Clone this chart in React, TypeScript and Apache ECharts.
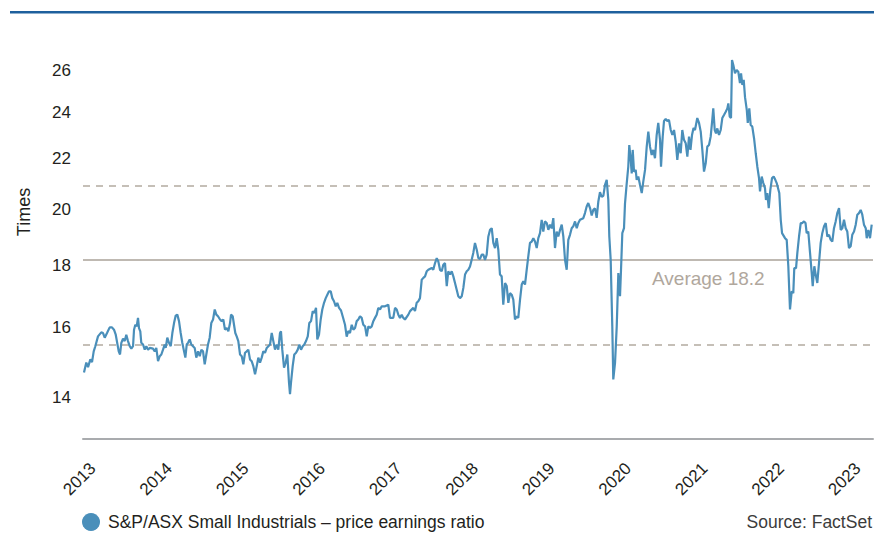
import React, { useEffect, useRef } from "react";
import * as echarts from "echarts";

// [decimal year, P/E ratio (times)]
const pe2013: [number, number][] = [
  [2013.333, 14.69], [2013.363, 14.97], [2013.386, 14.84], [2013.416, 15.06], [2013.438, 14.98],
  [2013.46, 15.29], [2013.481, 15.44], [2013.516, 15.73], [2013.559, 15.85], [2013.582, 15.83],
  [2013.604, 15.69], [2013.634, 15.83], [2013.669, 16.0], [2013.699, 16.0], [2013.725, 15.93],
  [2013.748, 15.78], [2013.787, 15.29], [2013.804, 15.2], [2013.821, 15.54], [2013.843, 15.66],
  [2013.865, 15.59], [2013.886, 15.78], [2013.908, 15.59], [2013.931, 15.44], [2013.952, 15.37],
  [2013.974, 15.44], [2013.987, 15.93],
];
const pe2014: [number, number][] = [
  [2014.004, 16.08], [2014.022, 16.03], [2014.039, 16.29], [2014.052, 15.98], [2014.069, 15.88],
  [2014.082, 15.54], [2014.105, 15.49], [2014.127, 15.34], [2014.148, 15.44], [2014.17, 15.34],
  [2014.192, 15.39], [2014.235, 15.37], [2014.258, 15.29], [2014.278, 15.39], [2014.301, 15.01],
  [2014.323, 15.15], [2014.344, 15.2], [2014.366, 15.34], [2014.388, 15.49], [2014.401, 15.39],
  [2014.422, 15.69], [2014.444, 15.54], [2014.467, 15.44], [2014.488, 15.83], [2014.51, 16.13],
  [2014.532, 16.36], [2014.553, 16.39], [2014.575, 16.19], [2014.597, 15.83], [2014.618, 15.54],
  [2014.641, 15.29], [2014.658, 15.11], [2014.676, 15.49], [2014.693, 15.54], [2014.715, 15.64],
  [2014.736, 15.49], [2014.758, 15.44], [2014.78, 15.39], [2014.801, 15.11], [2014.824, 15.29],
  [2014.846, 15.15], [2014.867, 15.34], [2014.889, 15.29], [2014.911, 14.92], [2014.932, 15.2],
  [2014.954, 15.49], [2014.976, 15.69], [2014.997, 16.13],
];
const pe2015: [number, number][] = [
  [2015.02, 16.24], [2015.042, 16.55], [2015.063, 16.39], [2015.085, 16.34], [2015.111, 16.24],
  [2015.133, 16.19], [2015.154, 16.24], [2015.176, 15.93], [2015.199, 15.98], [2015.22, 15.88],
  [2015.242, 16.13], [2015.255, 16.39], [2015.277, 16.34], [2015.294, 16.08], [2015.311, 15.83],
  [2015.329, 15.73], [2015.35, 15.59], [2015.373, 15.2], [2015.395, 15.15], [2015.416, 14.92],
  [2015.438, 15.25], [2015.46, 15.29], [2015.481, 15.34], [2015.503, 15.06], [2015.525, 15.01],
  [2015.546, 14.87], [2015.569, 14.64], [2015.591, 14.87], [2015.612, 15.11], [2015.634, 14.97],
  [2015.656, 15.11], [2015.677, 15.29], [2015.699, 15.25], [2015.722, 15.39], [2015.765, 15.49],
  [2015.787, 15.83], [2015.808, 15.59], [2015.83, 15.34], [2015.852, 15.49], [2015.873, 15.34],
  [2015.895, 15.83], [2015.908, 15.88], [2015.925, 15.34], [2015.948, 14.83], [2015.97, 14.97],
  [2015.991, 15.2],
];
const pe2016: [number, number][] = [
  [2016.013, 14.41], [2016.026, 14.1], [2016.039, 14.41], [2016.061, 14.87], [2016.082, 15.2],
  [2016.105, 15.25], [2016.127, 15.34], [2016.148, 15.49], [2016.17, 15.34], [2016.192, 15.44],
  [2016.213, 15.49], [2016.235, 15.59], [2016.258, 15.73], [2016.278, 16.13], [2016.301, 16.19],
  [2016.323, 16.5], [2016.344, 16.44], [2016.366, 16.6], [2016.383, 15.64], [2016.405, 15.78],
  [2016.427, 16.24], [2016.448, 16.55], [2016.471, 16.76], [2016.493, 16.91], [2016.514, 17.02],
  [2016.536, 17.13], [2016.558, 17.13], [2016.579, 16.91], [2016.601, 16.81], [2016.624, 16.65],
  [2016.644, 16.76], [2016.667, 16.6], [2016.693, 16.52], [2016.719, 16.3], [2016.745, 16.08],
  [2016.767, 15.72], [2016.788, 15.89], [2016.81, 15.83], [2016.833, 16.08], [2016.854, 15.93],
  [2016.876, 15.98], [2016.898, 16.19], [2016.919, 16.24], [2016.941, 16.34], [2016.963, 16.29],
  [2016.984, 16.08],
];
const pe2017: [number, number][] = [
  [2017.007, 16.03], [2017.029, 15.73], [2017.05, 16.03], [2017.072, 15.98], [2017.094, 16.03],
  [2017.115, 16.19], [2017.137, 16.29], [2017.159, 16.39], [2017.18, 16.6], [2017.203, 16.55],
  [2017.225, 16.65], [2017.268, 16.65], [2017.311, 16.7], [2017.333, 16.29], [2017.376, 16.29],
  [2017.399, 16.6], [2017.421, 16.55], [2017.442, 16.39], [2017.464, 16.29], [2017.486, 16.39],
  [2017.507, 16.29], [2017.529, 16.24], [2017.573, 16.39], [2017.595, 16.5], [2017.638, 16.6],
  [2017.66, 16.5], [2017.682, 16.76], [2017.703, 16.81], [2017.725, 16.91], [2017.748, 17.51],
  [2017.769, 17.57], [2017.791, 17.62], [2017.813, 17.79], [2017.834, 17.84], [2017.878, 17.9],
  [2017.899, 17.84], [2017.922, 18.07], [2017.944, 18.24], [2017.965, 18.12], [2017.987, 17.84],
];
const pe2018: [number, number][] = [
  [2018.009, 17.79], [2018.03, 18.01], [2018.052, 18.07], [2018.075, 17.3], [2018.095, 17.79],
  [2018.118, 17.68], [2018.14, 17.79], [2018.161, 17.62], [2018.183, 17.4], [2018.205, 17.18],
  [2018.226, 16.97], [2018.248, 16.91], [2018.271, 16.97], [2018.292, 17.24], [2018.314, 17.68],
  [2018.336, 17.79], [2018.357, 17.84], [2018.379, 17.95], [2018.401, 18.18], [2018.422, 18.42],
  [2018.444, 18.77], [2018.467, 18.53], [2018.488, 18.24], [2018.51, 18.21], [2018.532, 18.36],
  [2018.553, 18.36], [2018.575, 18.18], [2018.597, 18.36], [2018.618, 18.99], [2018.641, 19.24],
  [2018.663, 19.3], [2018.684, 18.77], [2018.706, 18.59], [2018.728, 18.94], [2018.749, 18.53],
  [2018.771, 17.68], [2018.793, 17.62], [2018.814, 16.7], [2018.837, 17.4], [2018.859, 17.3],
  [2018.88, 16.76], [2018.902, 17.07], [2018.924, 17.02], [2018.945, 16.86], [2018.967, 16.24],
  [2018.99, 16.34],
];
const pe2019: [number, number][] = [
  [2019.01, 16.29], [2019.033, 16.86], [2019.055, 17.35], [2019.076, 17.46], [2019.098, 17.35],
  [2019.12, 17.84], [2019.141, 18.3], [2019.163, 18.77], [2019.186, 18.82], [2019.207, 18.94],
  [2019.229, 18.82], [2019.251, 18.59], [2019.272, 18.94], [2019.294, 19.12], [2019.316, 19.61],
  [2019.337, 19.18], [2019.359, 19.55], [2019.382, 19.49], [2019.403, 19.24], [2019.425, 19.43],
  [2019.447, 19.3], [2019.468, 19.67], [2019.49, 18.59], [2019.512, 19.18], [2019.533, 19.0],
  [2019.556, 19.24], [2019.578, 19.43], [2019.599, 19.0], [2019.621, 18.18], [2019.643, 17.84],
  [2019.664, 18.88], [2019.686, 19.06], [2019.708, 19.3], [2019.729, 19.37], [2019.752, 19.55],
  [2019.774, 19.3], [2019.795, 19.49], [2019.817, 19.61], [2019.86, 19.67], [2019.882, 19.86],
  [2019.904, 20.11], [2019.925, 20.24], [2019.948, 20.05], [2019.97, 19.77], [2019.991, 19.98],
];
const pe2020: [number, number][] = [
  [2020.013, 20.04], [2020.035, 19.68], [2020.056, 20.29], [2020.078, 20.66], [2020.101, 20.48],
  [2020.122, 20.52], [2020.144, 20.95], [2020.166, 21.15], [2020.187, 20.36], [2020.2, 19.0],
  [2020.218, 18.18], [2020.239, 16.03], [2020.252, 14.5], [2020.275, 14.97], [2020.297, 16.03],
  [2020.318, 17.73], [2020.34, 16.97], [2020.353, 17.84], [2020.37, 19.12], [2020.392, 19.3],
  [2020.405, 20.22], [2020.427, 20.99], [2020.448, 21.68], [2020.461, 22.59], [2020.48, 21.96],
  [2020.493, 21.41], [2020.506, 22.38], [2020.523, 21.48], [2020.545, 21.55], [2020.558, 21.15],
  [2020.579, 21.28], [2020.601, 20.95], [2020.624, 20.63], [2020.644, 21.08], [2020.667, 21.55],
  [2020.689, 22.52], [2020.71, 23.17], [2020.732, 22.52], [2020.754, 22.17], [2020.775, 22.38],
  [2020.797, 22.03], [2020.819, 23.02], [2020.84, 23.55], [2020.863, 22.81], [2020.876, 21.68],
  [2020.898, 22.95], [2020.915, 23.64], [2020.937, 23.73], [2020.958, 23.64], [2020.98, 23.69],
];
const pe2021: [number, number][] = [
  [2021.003, 23.24], [2021.024, 23.02], [2021.046, 23.24], [2021.068, 22.73], [2021.089, 21.96],
  [2021.111, 22.66], [2021.133, 22.24], [2021.154, 23.24], [2021.176, 22.81], [2021.199, 22.66],
  [2021.22, 22.1], [2021.242, 22.95], [2021.261, 22.38], [2021.281, 23.02], [2021.301, 23.33],
  [2021.32, 23.24], [2021.35, 23.77], [2021.373, 23.55], [2021.395, 23.17], [2021.416, 22.38],
  [2021.438, 21.48], [2021.46, 21.82], [2021.481, 22.52], [2021.503, 22.59], [2021.525, 22.95],
  [2021.546, 23.69], [2021.559, 24.21], [2021.578, 23.24], [2021.595, 23.09], [2021.612, 23.31],
  [2021.634, 23.02], [2021.656, 23.24], [2021.677, 23.77], [2021.699, 23.91], [2021.722, 24.06],
  [2021.743, 24.21], [2021.756, 24.44], [2021.774, 23.84], [2021.791, 23.77], [2021.804, 26.53],
  [2021.821, 26.28], [2021.843, 25.87], [2021.865, 26.03], [2021.886, 25.95], [2021.908, 25.39],
  [2021.922, 25.87], [2021.939, 25.31], [2021.957, 25.55], [2021.974, 24.73], [2021.997, 24.14],
];
const pe2022: [number, number][] = [
  [2022.01, 23.55], [2022.03, 24.21], [2022.048, 23.46], [2022.069, 23.39], [2022.092, 22.88],
  [2022.114, 22.24], [2022.135, 21.68], [2022.157, 21.22], [2022.17, 20.69], [2022.192, 21.28],
  [2022.213, 21.02], [2022.235, 20.82], [2022.248, 20.36], [2022.265, 20.63], [2022.284, 20.05],
  [2022.305, 20.75], [2022.327, 21.22], [2022.349, 21.28], [2022.37, 21.15], [2022.388, 21.02],
  [2022.422, 20.63], [2022.441, 19.61], [2022.458, 19.12], [2022.497, 18.94], [2022.519, 18.88],
  [2022.54, 17.96], [2022.562, 16.55], [2022.584, 17.13], [2022.605, 17.07], [2022.618, 17.9],
  [2022.641, 17.9], [2022.658, 18.42], [2022.68, 19.0], [2022.702, 19.49], [2022.723, 19.49],
  [2022.745, 19.55], [2022.765, 19.49], [2022.78, 19.12], [2022.801, 19.18], [2022.824, 18.42],
  [2022.846, 17.73], [2022.859, 17.3], [2022.88, 17.96], [2022.902, 17.62], [2022.919, 17.4],
  [2022.941, 18.07], [2022.963, 18.77], [2022.984, 19.12],
];
const pe2023: [number, number][] = [
  [2023.007, 19.37], [2023.029, 19.49], [2023.05, 19.0], [2023.072, 19.06], [2023.094, 18.88],
  [2023.115, 18.82], [2023.137, 19.3], [2023.159, 19.55], [2023.18, 19.86], [2023.203, 20.05],
  [2023.225, 19.24], [2023.246, 19.3], [2023.268, 19.61], [2023.29, 19.3], [2023.311, 19.18],
  [2023.333, 18.59], [2023.355, 18.65], [2023.376, 19.06], [2023.399, 19.18], [2023.421, 19.43],
  [2023.442, 19.8], [2023.464, 19.86], [2023.486, 19.98], [2023.507, 19.8], [2023.529, 19.43],
  [2023.552, 19.3], [2023.565, 18.94], [2023.586, 19.24], [2023.608, 18.94], [2023.63, 19.43],
];

const yTickValues = [14, 16, 18, 20, 22, 24, 26];
const yearLabels = [2013, 2014, 2015, 2016, 2017, 2018, 2019, 2020, 2021, 2022, 2023];
const averagePE = 18.2;
const upperBandPE = 20.84;
const lowerBandPE = 15.53;
const seriesName = "S&P/ASX Small Industrials – price earnings ratio";
const averageText = "Average 18.2";
const sourceText = "Source: FactSet";
const yAxisTitle = "Times";

const FONT = "'Liberation Sans', Arial, Helvetica, sans-serif";

export default function App() {
  const ref = useRef<HTMLDivElement>(null);

  useEffect(() => {
    if (!ref.current) return;
    const chart = echarts.init(ref.current, undefined, { renderer: "svg" });
    const all = [
      ...pe2013, ...pe2014, ...pe2015, ...pe2016, ...pe2017, ...pe2018,
      ...pe2019, ...pe2020, ...pe2021, ...pe2022, ...pe2023,
    ];
    const data = all.map(([t, v]) => [t, Math.log(v)]);

    const option: any = {
      animation: false,
      backgroundColor: "#ffffff",
      textStyle: { fontFamily: FONT },
      grid: [
        { left: 83, right: 1, top: 12, bottom: 94, containLabel: false },
        { left: 71.85, right: 21.85, top: 12, bottom: 94, containLabel: false },
      ],
      xAxis: [
        {
          type: "value",
          gridIndex: 0,
          min: 2013.32,
          max: 2023.647,
          axisLine: { show: true, lineStyle: { color: "#a9abae", width: 2 } },
          axisTick: { show: false },
          axisLabel: { show: false },
          splitLine: { show: false },
        },
        {
          type: "value",
          gridIndex: 1,
          min: 2012.9,
          max: 2023.1,
          axisLine: { show: false },
          axisTick: { show: false },
          splitLine: { show: false },
          axisLabel: {
            show: true,
            customValues: yearLabels,
            formatter: (v: number) => String(Math.round(v)),
            rotate: 45,
            align: "center",
            verticalAlign: "middle",
            margin: 40,
            fontSize: 17,
            color: "#231f20",
            fontFamily: FONT,
          },
        },
      ],
      yAxis: [
        {
          type: "value",
          gridIndex: 0,
          min: Math.log(12.955),
          max: Math.log(29.05),
          axisLine: { show: false },
          axisTick: { show: false },
          splitLine: { show: false },
          axisLabel: {
            customValues: yTickValues.map((v) => Math.log(v)),
            formatter: (v: number) => String(Math.round(Math.exp(v))),
            margin: 12,
            fontSize: 17,
            color: "#231f20",
            fontFamily: FONT,
          },
        },
        {
          type: "value",
          gridIndex: 1,
          show: false,
          min: 0,
          max: 1,
        },
      ],
      legend: {
        data: [{ name: seriesName, icon: "circle" }],
        left: 82,
        top: 513,
        itemWidth: 18,
        itemHeight: 18,
        padding: 0,
        textStyle: { fontSize: 17.5, color: "#231f20", fontFamily: FONT, padding: [0, 0, 0, 3] },
        selectedMode: false,
      },
      series: [
        {
          name: seriesName,
          type: "line",
          xAxisIndex: 0,
          yAxisIndex: 0,
          data,
          showSymbol: false,
          symbol: "none",
          color: "#4a8fba",
          itemStyle: { color: "#4a8fba" },
          lineStyle: { color: "#4a8fba", width: 2.2 },
          z: 5,
          markLine: {
            silent: true,
            symbol: ["none", "none"],
            label: { show: false },
            z: 2,
            data: [
              { yAxis: Math.log(averagePE), lineStyle: { type: "solid", color: "#aaa298", width: 1.5 } },
              { yAxis: Math.log(upperBandPE), lineStyle: { type: [7, 6], color: "#b3aaa0", width: 1.5 } },
              { yAxis: Math.log(lowerBandPE), lineStyle: { type: [7, 6], color: "#b3aaa0", width: 1.5 } },
            ],
          },
        },
      ],
      graphic: [
        { type: "rect", shape: { x: 10, y: 11, width: 864, height: 2.5 }, style: { fill: "#1e609d" } },
        {
          type: "text",
          x: 24,
          y: 212,
          rotation: Math.PI / 2,
          style: {
            text: yAxisTitle,
            fontSize: 18,
            fontFamily: FONT,
            fill: "#231f20",
            textAlign: "center",
            textVerticalAlign: "middle",
          },
        },
        {
          type: "text",
          x: 652,
          y: 278,
          style: {
            text: averageText,
            fontSize: 19,
            fontFamily: FONT,
            fill: "#b0a79d",
            textAlign: "left",
            textVerticalAlign: "middle",
          },
        },
        {
          type: "text",
          x: 872,
          y: 522,
          style: {
            text: sourceText,
            fontSize: 17.5,
            fontFamily: FONT,
            fill: "#3c3c3c",
            textAlign: "right",
            textVerticalAlign: "middle",
          },
        },
      ],
    };

    chart.setOption(option);
    return () => chart.dispose();
  }, []);

  return (
    <div
      ref={ref}
      style={{ position: "absolute", left: 0, top: 0, width: 874, height: 533, background: "#fff" }}
    />
  );
}
